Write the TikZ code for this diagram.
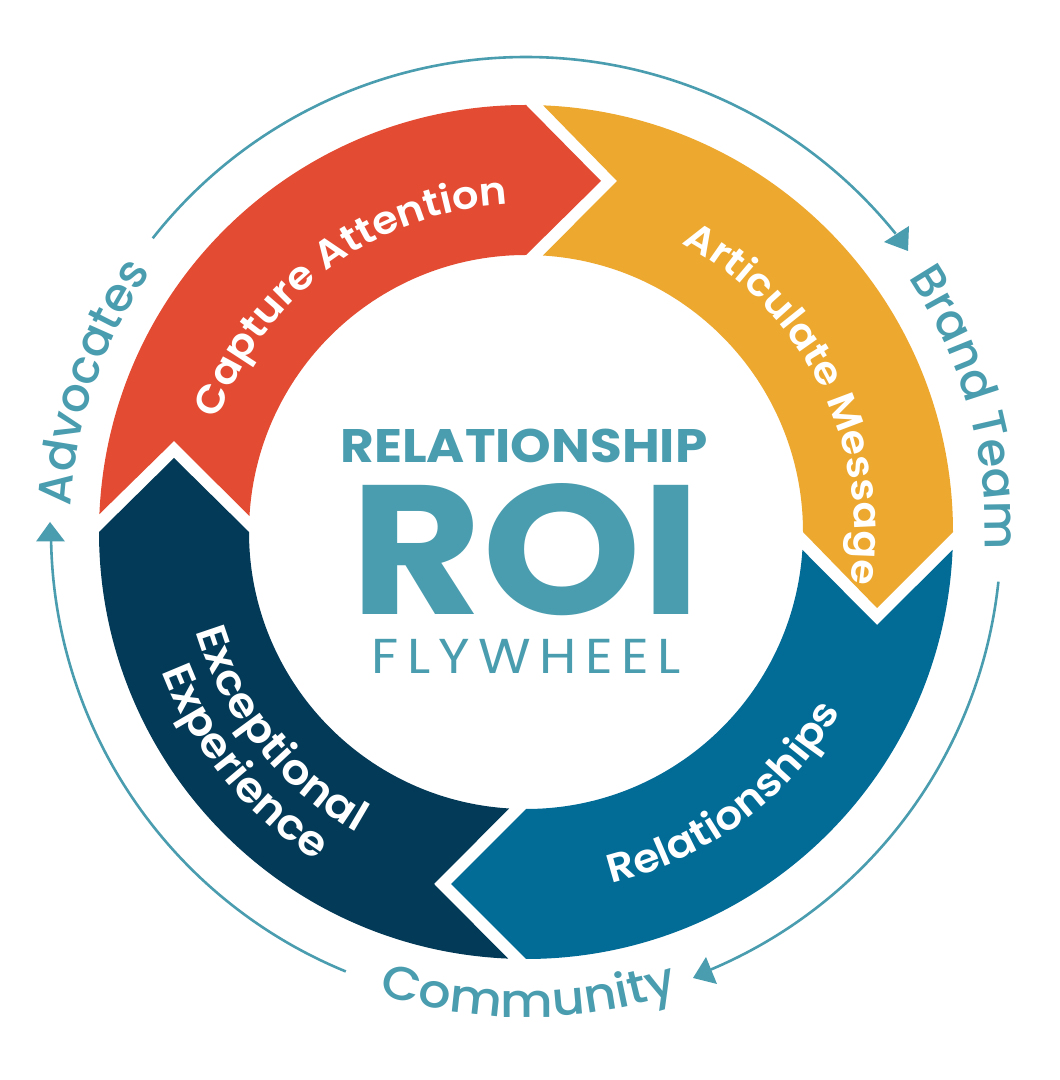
\documentclass[tikz,border=0pt]{standalone}
\usepackage{fontspec}
\usetikzlibrary{decorations.text,calc}
\setmainfont{Poppins}
\newfontfamily\ringb[FakeStretch=1.07]{Poppins SemiBold}
\newfontfamily\outerm[FakeStretch=0.99]{Poppins Medium}
\newfontfamily\outerw[FakeStretch=1.08]{Poppins Medium}
\newfontfamily\centerb[FakeStretch=1.1]{Poppins}
\newfontfamily\centerr[FakeStretch=1.1,LetterSpace=17]{Poppins}
\definecolor{teal1}{HTML}{4A9DAF}
\definecolor{redc}{HTML}{E34C32}
\definecolor{orangec}{HTML}{EDA82F}
\definecolor{bluec}{HTML}{026C97}
\definecolor{darkc}{HTML}{033A57}
\newcommand{\fs}[1]{\fontsize{#1}{#1}\selectfont}
\tikzset{
  ringtext/.style={decorate,decoration={text along path,text align=center,text={#1}}},
  ringline/.style={draw=teal1,line width=2.6pt},
  headfill/.style={fill=teal1},
  inlabel/.style={text=teal1,inner sep=0pt,anchor=center}
}
\begin{document}
\begin{tikzpicture}[x=1pt,y=1pt]
\useasboundingbox (0,0) rectangle (1060,1080);
\fill[white] (0,0) rectangle (1060,1080);
\coordinate (c) at (526,548);
\def\Ro{427}\def\Ri{277}
% segments
\fill[redc] ($(c)+(177.6:\Ro)$) arc[start angle=177.6,end angle=90,radius=\Ro] -- (601,899) -- ($(c)+(90:\Ri)$) arc[start angle=90,end angle=176.7,radius=\Ri] -- (174,639) -- cycle;
\fill[orangec] ($(c)+(87.7:\Ro)$) arc[start angle=87.7,end angle=0,radius=\Ro] -- (877,472) -- ($(c)+(0:\Ri)$) arc[start angle=0,end angle=86.5,radius=\Ri] -- (617,899) -- cycle;
\fill[bluec] ($(c)+(-2.4:\Ro)$) arc[start angle=-2.4,end angle=-90,radius=\Ro] -- (451,196) -- ($(c)+(-90:\Ri)$) arc[start angle=-90,end angle=-3.7,radius=\Ri] -- (877,455) -- cycle;
\fill[darkc] ($(c)+(-92.4:\Ro)$) arc[start angle=-92.4,end angle=-180,radius=\Ro] -- (174,622) -- ($(c)+(180:\Ri)$) arc[start angle=-180,end angle=-93.5,radius=\Ri] -- (434,196) -- cycle;
% outer arrows
\draw[ringline] ($(c)+(141.8:475)$) arc[start angle=141.8,end angle=38.9,radius=475];
\fill[headfill] (908,829) -- (884,838) -- (909,854) -- cycle;
\draw[ringline] ($(c)+(-6:475)$) arc[start angle=-6,end angle=-67.1,radius=475];
\fill[headfill] (693,102) -- (706,123) -- (717,96) -- cycle;
\draw[ringline] ($(c)+(-112.3:475)$) arc[start angle=-112.3,end angle=-178.9,radius=475];
\fill[headfill] (36,538.5) -- (65,538.5) -- (50,558) -- cycle;
% ring text
\path[ringtext={|\color{white}\fs{39}\ringb|Capture Attention}] ($(c)+(166:328)$) arc[start angle=166,end angle=87,radius=328];
\path[ringtext={|\color{white}\fs{38.5}\ringb|Articulate Message}] ($(c)+(69.8:328)$) arc[start angle=69.8,end angle=-17.2,radius=328];
\path[ringtext={|\color{white}\fs{40}\ringb|Relationships}] ($(c)+(-80:362)$) arc[start angle=-80,end angle=-26,radius=362];
\path[ringtext={|\color{white}\fs{42}\ringb|Exceptional}] ($(c)+(191:345)$) arc[start angle=191,end angle=246.4,radius=345];
\path[ringtext={|\color{white}\fs{42}\ringb|Experience}] ($(c)+(196:390)$) arc[start angle=196,end angle=242.4,radius=390];
\path[ringtext={|\color{teal1}\fs{47}\outerm|Brand Team}] ($(c)+(38:459)$) arc[start angle=38,end angle=-6.5,radius=459];
\path[ringtext={|\color{teal1}\fs{47}\outerw|Community}] ($(c)+(-114:485)$) arc[start angle=-114,end angle=-65.4,radius=485];
\path[ringtext={|\color{teal1}\fs{47}\outerm|Advocates}] ($(c)+(185:456)$) arc[start angle=185,end angle=137,radius=456];
% centre
\node[inlabel] (rel) at (524,634) {\fs{47}\centerb\bfseries RELATIONSHIP};
\node[inlabel] (roi) at (526,530.5) {\fs{184}\centerb\bfseries ROI};
\node[inlabel] (fly) at (526,424) {\fs{49}\centerr FLYWHEEL};
\end{tikzpicture}
\end{document}
